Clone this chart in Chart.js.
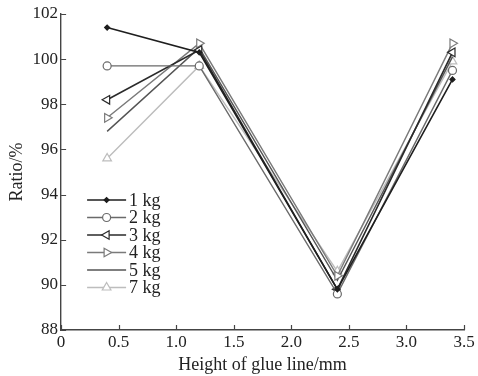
<!DOCTYPE html>
<html>
<head>
<meta charset="utf-8">
<script src="https://cdn.jsdelivr.net/npm/chart.js@4/dist/chart.umd.min.js"></script>
<style>
  html, body { margin: 0; padding: 0; background: #fff; }
  #wrap { width: 478px; height: 376px; }
</style>
</head>
<body>
<div id="wrap"><canvas id="grafico" width="478" height="376"></canvas></div>
<script>
// Dados
const alturas = [0.4, 1.2, 2.4, 3.4];
const serie1kg = [101.4, 100.3, 89.8, 99.1];
const serie2kg = [99.7, 99.7, 89.6, 99.5];
const serie3kg = [98.2, 100.4, 89.8, 100.3];
const serie4kg = [97.4, 100.7, 90.4, 100.7];
const serie5kg = [96.8, 100.5, 90.2, 100.1];
const serie7kg = [95.6, 99.7, 90.6, 99.9];
const rotulos = ['1 kg', '2 kg', '3 kg', '4 kg', '5 kg', '7 kg'];
const ticksX = [0, 0.5, 1, 1.5, 2, 2.5, 3, 3.5];
const ticksY = [88, 90, 92, 94, 96, 98, 100, 102];

const fonte = '"Liberation Serif", "Times New Roman", serif';

function pontos(valores) {
  return alturas.map((x, i) => ({ x: x, y: valores[i] }));
}

const estilos = [
  { cor: '#1e1e1e', ponto: 'rectRot', raio: 2.5, rot: 0, fill: '#1e1e1e', w: 1.6 },
  { cor: '#6a6a6a', ponto: 'circle', raio: 4, rot: 0, fill: '#fff', w: 1.4 },
  { cor: '#2a2a2a', ponto: 'triangle', raio: 5, rot: -90, fill: '#fff', w: 1.6 },
  { cor: '#7a7a7a', ponto: 'triangle', raio: 5, rot: 90, fill: '#fff', w: 1.4 },
  { cor: '#555555', ponto: false, raio: 0, rot: 0, fill: '#555', w: 1.4 },
  { cor: '#bdbdbd', ponto: 'triangle', raio: 5, rot: 0, fill: '#fff', w: 1.4 }
];

const series = [serie1kg, serie2kg, serie3kg, serie4kg, serie5kg, serie7kg];

const datasets = series.map((s, i) => ({
  label: rotulos[i],
  data: pontos(s),
  borderColor: estilos[i].cor,
  borderWidth: estilos[i].w,
  pointStyle: estilos[i].ponto,
  pointRadius: estilos[i].raio,
  pointRotation: estilos[i].rot,
  pointBackgroundColor: estilos[i].fill,
  pointBorderColor: estilos[i].cor,
  pointBorderWidth: 1.2,
  tension: 0,
  fill: false
}));

// Marcas de escala para dentro e legenda dentro da área do gráfico
const pluginEixos = {
  id: 'pluginEixos',
  afterDraw(chart) {
    const ctx = chart.ctx;
    const area = chart.chartArea;
    const sx = chart.scales.x;
    const sy = chart.scales.y;
    ctx.save();
    ctx.strokeStyle = '#444';
    ctx.lineWidth = 1.2;
    ctx.beginPath();
    ticksY.forEach(v => {
      const py = Math.round(sy.getPixelForValue(v)) + 0.5;
      ctx.moveTo(area.left, py);
      ctx.lineTo(area.left + 5, py);
    });
    ticksX.forEach(v => {
      const px = Math.round(sx.getPixelForValue(v)) + 0.5;
      ctx.moveTo(px, area.bottom);
      ctx.lineTo(px, area.bottom - 5);
    });
    ctx.stroke();

    // legenda
    const x0 = area.left + 26;
    const x1 = area.left + 65;
    let y = 200;
    ctx.font = '18px ' + fonte;
    ctx.textBaseline = 'middle';
    chart.data.datasets.forEach((ds, i) => {
      ctx.strokeStyle = ds.borderColor;
      ctx.lineWidth = ds.borderWidth;
      ctx.beginPath();
      ctx.moveTo(x0, y);
      ctx.lineTo(x1, y);
      ctx.stroke();
      if (ds.pointStyle) {
        ctx.fillStyle = ds.pointBackgroundColor;
        ctx.strokeStyle = ds.pointBorderColor;
        ctx.lineWidth = 1.2;
        Chart.helpers.drawPoint(ctx, {
          pointStyle: ds.pointStyle,
          rotation: ds.pointRotation,
          radius: ds.pointRadius,
          borderWidth: 1.2
        }, (x0 + x1) / 2, y);
      }
      ctx.fillStyle = '#222';
      ctx.fillText(ds.label, x1 + 3, y + 1);
      y += 17.5;
    });
    ctx.restore();
  }
};

new Chart(document.getElementById('grafico'), {
  type: 'line',
  data: { datasets: datasets },
  options: {
    responsive: false,
    animation: false,
    layout: { padding: { top: 14, right: 14, left: 6, bottom: 0 } },
    plugins: {
      legend: { display: false },
      tooltip: { enabled: false }
    },
    scales: {
      x: {
        type: 'linear',
        min: 0,
        max: 3.5,
        afterBuildTicks: axis => { axis.ticks = ticksX.map(v => ({ value: v })); },
        grid: { display: false, drawTicks: false },
        border: { display: true, color: '#444', width: 1.4 },
        ticks: {
          color: '#222',
          padding: 2,
          maxRotation: 0,
          font: { family: fonte, size: 17 }
        },
        title: {
          display: true,
          text: 'Height of glue line/mm',
          color: '#222',
          padding: { top: 0, bottom: 0 },
          font: { family: fonte, size: 18 }
        }
      },
      y: {
        min: 88,
        max: 102,
        afterBuildTicks: axis => { axis.ticks = ticksY.map(v => ({ value: v })); },
        grid: { display: false, drawTicks: false },
        border: { display: true, color: '#444', width: 1.4 },
        ticks: {
          color: '#222',
          padding: 3,
          font: { family: fonte, size: 17 }
        },
        title: {
          display: true,
          text: 'Ratio/%',
          color: '#222',
          padding: { top: 0, bottom: 2 },
          font: { family: fonte, size: 18 }
        }
      }
    }
  },
  plugins: [pluginEixos]
});
</script>
</body>
</html>
